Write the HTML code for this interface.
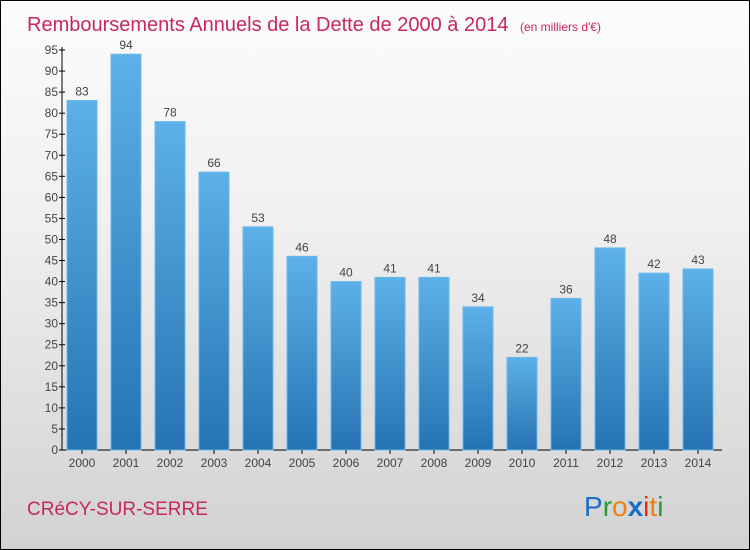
<!DOCTYPE html>
<html><head><meta charset="utf-8"><style>
body{margin:0}
#c{width:748px;height:548px;border:1px solid #000;background:linear-gradient(#fcfcfc,#f0f0f0 40%,#d2d2d2);position:relative;font-family:"Liberation Sans",sans-serif;overflow:hidden}
</style></head><body>
<div id="c">
<svg width="748" height="548" id="s">
<defs><linearGradient id="g" x1="0" y1="0" x2="0" y2="1"><stop offset="0" stop-color="#5db0e8"/><stop offset="1" stop-color="#2673b3"/></linearGradient></defs>
<text x="26" y="30" font-size="20" fill="#c8285a">Remboursements Annuels de la Dette de 2000 à 2014 <tspan font-size="12" dx="6">(en milliers d'€)</tspan></text>
<text x="26" y="514" font-size="19" fill="#c8285a">CRéCY-SUR-SERRE</text>
<text x="583" y="515" font-size="28"><tspan fill="#1a6fc4">P</tspan><tspan fill="#2a9a3a">r</tspan><tspan fill="#f08010">o</tspan><tspan fill="#1a6fc4" font-weight="bold">x</tspan><tspan fill="#e03010">i</tspan><tspan fill="#f08010">t</tspan><tspan fill="#2a9a3a">i</tspan></text>
<g id="plot"></g>
</svg></div>
<script>
const years=["2000","2001","2002","2003","2004","2005","2006","2007","2008","2009","2010","2011","2012","2013","2014"];
const values=[83,94,78,66,53,46,40,41,41,34,22,36,48,42,43];
const ticks=[0,5,10,15,20,25,30,35,40,45,50,55,60,65,70,75,80,85,90,95];
const ns="http://www.w3.org/2000/svg",p=document.getElementById('plot');
const y=v=>449-v*(400/95), X0=61, slot=44;
function mk(t,a,txt){const e=document.createElementNS(ns,t);for(const k in a)e.setAttribute(k,a[k]);if(txt!==undefined)e.textContent=txt;p.appendChild(e);return e;}
let ax=mk('line',{x1:X0,y1:y(95)-3,x2:X0,y2:449,stroke:'#000'});


let bx=mk('line',{x1:X0,y1:449,x2:X0+15*slot,y2:449,stroke:'#000'});


ticks.forEach(t=>{
 let l=mk('line',{x1:X0-3,y1:y(t),x2:X0+3,y2:y(t),stroke:'#000'});
 
 
 let tx=mk('text',{x:X0-4,y:y(t)+4,'font-size':12,fill:'#444','text-anchor':'end'},t);
 
 
});
years.forEach((yr,i)=>{
 const x=X0+i*slot+5,v=values[i];
 let r=mk('rect',{x:x,y:y(v),width:30,height:449-y(v),fill:'url(#g)',stroke:'#6cb8ec','stroke-width':1});
 
 
 let vl=mk('text',{x:x+15,y:y(v)-5,'font-size':12,fill:'#444','text-anchor':'middle'},v);
 
 
 let tk=mk('line',{x1:x+15,y1:449,x2:x+15,y2:453,stroke:'#000'});
 
 
 let xl=mk('text',{x:x+15,y:466,'font-size':12,fill:'#444','text-anchor':'middle'},yr);
 
 
});
</script>
</body></html>
